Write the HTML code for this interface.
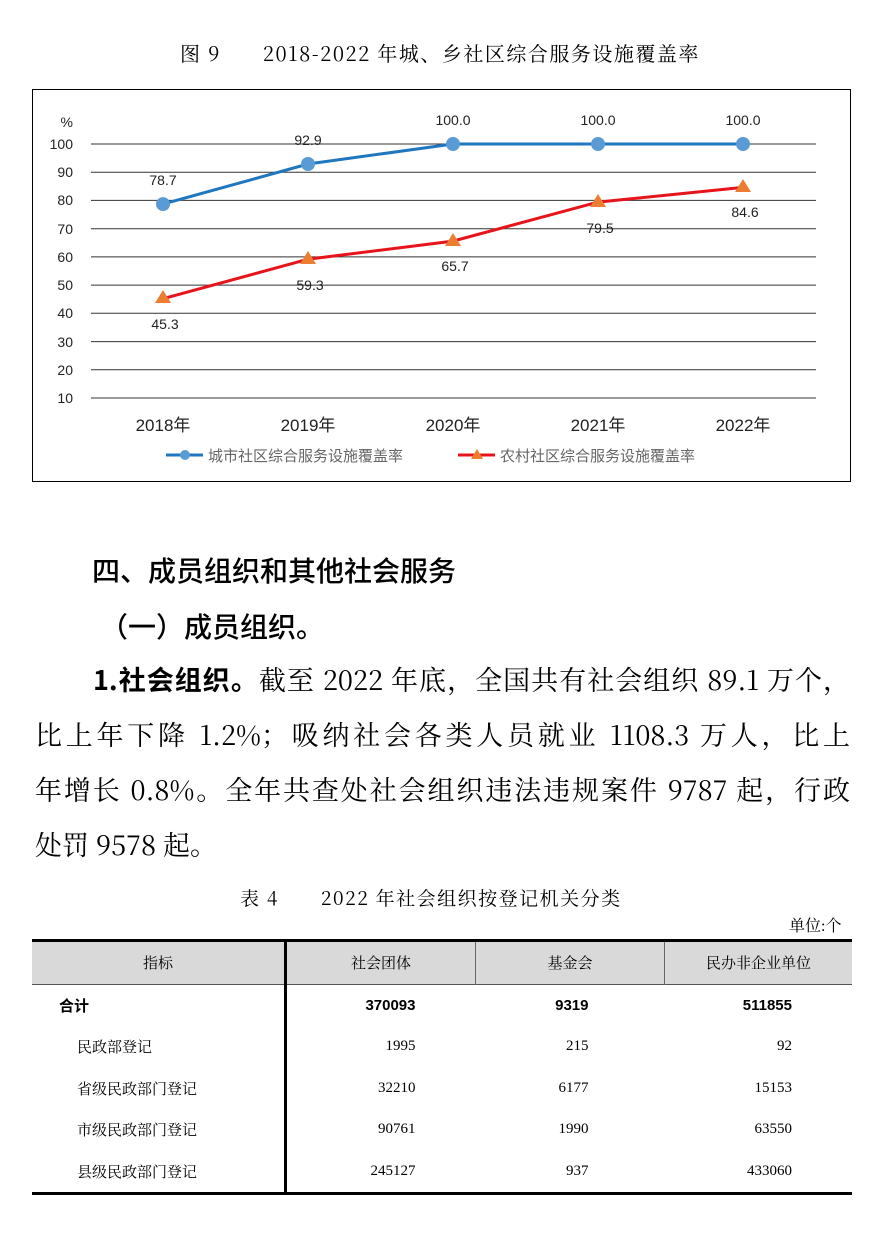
<!DOCTYPE html>
<html><head><meta charset="utf-8"><style>
body{margin:0;width:881px;height:1247px;background:#fff;position:relative;overflow:hidden;font-family:"Liberation Serif","Noto Serif CJK SC",serif;color:#000}
.a{position:absolute;white-space:nowrap}
.j{position:absolute;left:35px;width:815px;font-size:27px;text-align:justify;text-align-last:justify;white-space:nowrap;line-height:30px;font-family:"Noto Serif CJK SC",serif}
table{position:absolute;left:32px;top:939px;width:820px;border-collapse:collapse;font-size:15px}
td{height:41.5px;padding:0}
</style></head><body>
<div class="a" style="left:180px;top:38px;font-size:20px;font-family:'Noto Serif CJK SC',serif;letter-spacing:1.5px">图 9<span style="display:inline-block;width:42px"></span>2018-2022 年城、乡社区综合服务设施覆盖率</div>
<svg class="a" style="left:0;top:0" width="881" height="500" font-family="Liberation Sans,Noto Sans CJK SC,sans-serif">
<rect x="32.5" y="89.5" width="818" height="392" fill="none" stroke="#000"/>
<g stroke="#333" stroke-width="1">
<line x1="91" x2="816" y1="144" y2="144"/><line x1="91" x2="816" y1="172.2" y2="172.2"/><line x1="91" x2="816" y1="200.4" y2="200.4"/><line x1="91" x2="816" y1="228.7" y2="228.7"/><line x1="91" x2="816" y1="256.9" y2="256.9"/><line x1="91" x2="816" y1="285.1" y2="285.1"/><line x1="91" x2="816" y1="313.3" y2="313.3"/><line x1="91" x2="816" y1="341.6" y2="341.6"/><line x1="91" x2="816" y1="369.8" y2="369.8"/><line x1="91" x2="816" y1="398" y2="398"/>
</g>
<g font-size="14" fill="#222" text-anchor="end">
<text x="73" y="127">%</text><text x="73" y="149">100</text><text x="73" y="177">90</text><text x="73" y="205">80</text><text x="73" y="234">70</text><text x="73" y="262">60</text><text x="73" y="290">50</text><text x="73" y="318">40</text><text x="73" y="347">30</text><text x="73" y="375">20</text><text x="73" y="403">10</text>
</g>
<polyline points="163,204.1 308,164 453,144 598,144 743,144" fill="none" stroke="#1f77c0" stroke-width="3"/>
<polyline points="163,298.7 308,259.2 453,241.1 598,202.1 743,187.4" fill="none" stroke="#e8141b" stroke-width="3"/>
<g fill="#5b9bd5"><circle cx="163" cy="204.1" r="7"/><circle cx="308" cy="164" r="7"/><circle cx="453" cy="144" r="7"/><circle cx="598" cy="144" r="7"/><circle cx="743" cy="144" r="7"/></g>
<g fill="#ed7d31"><path d="M163,290 l8,13 h-16z"/><path d="M308,251 l8,13 h-16z"/><path d="M453,233 l8,13 h-16z"/><path d="M598,194 l8,13 h-16z"/><path d="M743,179 l8,13 h-16z"/></g>
<g font-size="14" fill="#222" text-anchor="middle">
<text x="163" y="185">78.7</text><text x="308" y="145">92.9</text><text x="453" y="125">100.0</text><text x="598" y="125">100.0</text><text x="743" y="125">100.0</text>
<text x="165" y="329">45.3</text><text x="310" y="290">59.3</text><text x="455" y="271">65.7</text><text x="600" y="233">79.5</text><text x="745" y="217">84.6</text>
</g>
<g font-size="17" fill="#222" text-anchor="middle">
<text x="163" y="431">2018年</text><text x="308" y="431">2019年</text><text x="453" y="431">2020年</text><text x="598" y="431">2021年</text><text x="743" y="431">2022年</text>
</g>
<line x1="166" x2="203" y1="455" y2="455" stroke="#1f77c0" stroke-width="3"/><circle cx="185" cy="455" r="5" fill="#5b9bd5"/>
<text x="208" y="461" font-size="15" fill="#666">城市社区综合服务设施覆盖率</text>
<line x1="458" x2="495" y1="455" y2="455" stroke="#e8141b" stroke-width="3"/><path d="M477,449 l6,10 h-12z" fill="#ed7d31"/>
<text x="500" y="461" font-size="15" fill="#666">农村社区综合服务设施覆盖率</text>
</svg>
<div class="a" style="left:92px;top:550px;font-size:28px;font-family:'Noto Sans CJK SC',sans-serif;font-weight:500">四、成员组织和其他社会服务</div>
<div class="a" style="left:100px;top:606px;font-size:28px;font-family:'Noto Sans CJK SC',sans-serif;font-weight:500">（一）成员组织。</div>
<div class="j" style="top:664px;padding-left:58px;width:757px"><b style="font-family:'Noto Sans CJK SC',sans-serif">1.社会组织。</b>截至 2022 年底，全国共有社会组织 89.1 万个，</div>
<div class="j" style="top:719px">比上年下降 1.2%；吸纳社会各类人员就业 1108.3 万人，比上</div>
<div class="j" style="top:774px">年增长 0.8%。全年共查处社会组织违法违规案件 9787 起，行政</div>
<div class="a" style="left:35px;top:829px;font-size:27px;line-height:30px;font-family:'Noto Serif CJK SC',serif">处罚 9578 起。</div>
<div class="a" style="left:240px;top:884px;font-size:19px;font-family:'Noto Serif CJK SC',serif;letter-spacing:1.5px">表 4<span style="display:inline-block;width:42px"></span>2022 年社会组织按登记机关分类</div>
<div class="a" style="left:789px;top:913px;font-size:16px">单位:个</div>
<table>
<tr style="background:#d9d9d9;border-top:3px solid #000;border-bottom:1.5px solid #555;text-align:center">
<td style="width:252px;border-right:3px solid #000">指标</td><td style="width:188px;border-right:1px solid #666">社会团体</td><td style="width:188px;border-right:1px solid #666">基金会</td><td>民办非企业单位</td></tr>
<tr style="font-weight:bold;font-family:'Liberation Sans','Noto Sans CJK SC',sans-serif"><td style="border-right:3px solid #000;padding-left:27px">合计</td><td style="text-align:right;padding-right:60px">370093</td><td style="text-align:right;padding-right:76px">9319</td><td style="text-align:right;padding-right:60px">511855</td></tr>
<tr><td style="border-right:3px solid #000;padding-left:45px">民政部登记</td><td style="text-align:right;padding-right:60px">1995</td><td style="text-align:right;padding-right:76px">215</td><td style="text-align:right;padding-right:60px">92</td></tr>
<tr><td style="border-right:3px solid #000;padding-left:45px">省级民政部门登记</td><td style="text-align:right;padding-right:60px">32210</td><td style="text-align:right;padding-right:76px">6177</td><td style="text-align:right;padding-right:60px">15153</td></tr>
<tr><td style="border-right:3px solid #000;padding-left:45px">市级民政部门登记</td><td style="text-align:right;padding-right:60px">90761</td><td style="text-align:right;padding-right:76px">1990</td><td style="text-align:right;padding-right:60px">63550</td></tr>
<tr style="border-bottom:3px solid #000"><td style="border-right:3px solid #000;padding-left:45px">县级民政部门登记</td><td style="text-align:right;padding-right:60px">245127</td><td style="text-align:right;padding-right:76px">937</td><td style="text-align:right;padding-right:60px">433060</td></tr>
</table>
</body></html>
